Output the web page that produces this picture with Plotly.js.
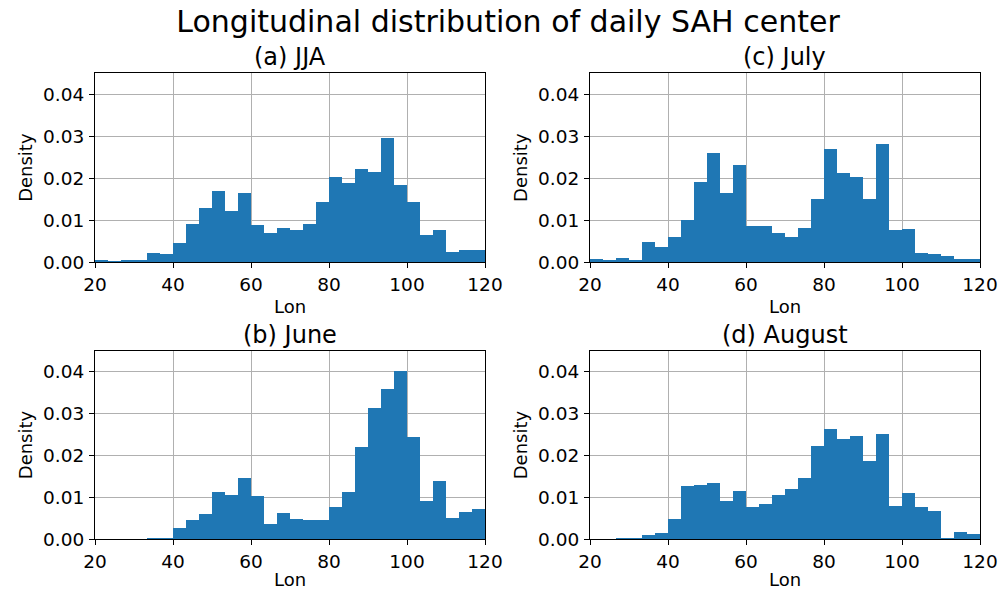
<!DOCTYPE html>
<html>
<head>
<meta charset="utf-8">
<script src="https://cdn.plot.ly/plotly-3.0.1.min.js"></script>
<style>
  html, body { margin: 0; padding: 0; background: #fff; }
  #chart { width: 1000px; height: 590px; }
</style>
</head>
<body>
<div id="chart"></div>
<script>
// Histogram of daily SAH center longitude: 30 equal bins between 20E and 120E
const lonMin = 20;
const lonMax = 120;
const nBins = 30;

// Density per bin, west to east
const densityJJA = [0.0002, 0.0001, 0.0004, 0.0002, 0.0021, 0.0018,
  0.0045, 0.0091, 0.0127, 0.0168, 0.0122, 0.0163,
  0.0088, 0.0069, 0.0080, 0.0076, 0.0091, 0.0142,
  0.0202, 0.0188, 0.0221, 0.0214, 0.0294, 0.0182,
  0.0143, 0.0064, 0.0075, 0.0023, 0.0029, 0.0029];

const densityJune = [0, 0, 0, 0, 0.0001, 0.0001,
  0.0027, 0.0045, 0.0061, 0.0112, 0.0105, 0.0146,
  0.0102, 0.0035, 0.0062, 0.0049, 0.0046, 0.0046,
  0.0076, 0.0113, 0.0220, 0.0313, 0.0358, 0.0402,
  0.0244, 0.0090, 0.0140, 0.0051, 0.0065, 0.0073];

const densityJuly = [0.0006, 0.0003, 0.0009, 0.0004, 0.0048, 0.0035,
  0.0059, 0.0099, 0.0189, 0.0259, 0.0165, 0.0231,
  0.0085, 0.0085, 0.0068, 0.0059, 0.0080, 0.0150,
  0.0268, 0.0211, 0.0201, 0.0150, 0.0280, 0.0075,
  0.0078, 0.0022, 0.0019, 0.0014, 0.0006, 0.0006];

const densityAugust = [0, 0, 0.0001, 0.0001, 0.0010, 0.0014,
  0.0047, 0.0127, 0.0129, 0.0135, 0.0091, 0.0116,
  0.0076, 0.0084, 0.0105, 0.0119, 0.0146, 0.0223,
  0.0264, 0.0240, 0.0246, 0.0187, 0.0252, 0.0080,
  0.0109, 0.0076, 0.0066, 0.0003, 0.0017, 0.0012];

const panelTitles = ['(a) JJA', '(b) June', '(c) July', '(d) August'];
const xTicks = [20, 40, 60, 80, 100, 120];
const yTicks = [0, 0.01, 0.02, 0.03, 0.04];

const binWidth = (lonMax - lonMin) / nBins;
const binCenters = Array.from({length: nBins}, (_, i) => lonMin + (i + 0.5) * binWidth);

const font = 'DejaVu Sans, Liberation Sans, sans-serif';
const barColor = '#1f77b4';
const tickSize = 18.5;
const labelSize = 18;

// panel order: JJA top-left, June bottom-left, July top-right, August bottom-right
const panels = [
  {data: densityJJA,    xa: 'x',  ya: 'y',  xd: [0.095, 0.485], yd: [0.5559, 0.8758]},
  {data: densityJune,   xa: 'x2', ya: 'y2', xd: [0.095, 0.485], yd: [0.0864, 0.4051]},
  {data: densityJuly,   xa: 'x3', ya: 'y3', xd: [0.590, 0.980], yd: [0.5559, 0.8758]},
  {data: densityAugust, xa: 'x4', ya: 'y4', xd: [0.590, 0.980], yd: [0.0864, 0.4051]}
];

const traces = panels.map(p => ({
  type: 'bar',
  x: binCenters,
  y: p.data,
  width: binWidth,
  xaxis: p.xa,
  yaxis: p.ya,
  marker: {color: barColor, line: {width: 0}},
  hoverinfo: 'x+y',
  showlegend: false
}));

const layout = {
  width: 1000,
  height: 590,
  margin: {l: 0, r: 0, t: 0, b: 0},
  paper_bgcolor: '#fff',
  plot_bgcolor: '#fff',
  bargap: 0,
  font: {family: font, color: '#000', size: 16},
  title: {
    text: 'Longitudinal distribution of daily SAH center',
    font: {family: font, size: 30, color: '#000'},
    x: 0.508, xanchor: 'center',
    y: 0.963, yanchor: 'middle'
  },
  annotations: []
};

panels.forEach((p, i) => {
  const sx = i === 0 ? '' : String(i + 1);
  layout['xaxis' + sx] = {
    domain: p.xd,
    anchor: p.ya,
    range: [lonMin, lonMax],
    tickvals: xTicks,
    ticktext: xTicks.map(String),
    ticks: 'outside', ticklen: 5, tickwidth: 1, tickcolor: '#000',
    ticklabelstandoff: 1,
    tickfont: {family: font, size: tickSize, color: '#000'},
    showgrid: true, gridcolor: '#b0b0b0', gridwidth: 1,
    showline: true, linecolor: '#000', linewidth: 1, mirror: true,
    zeroline: false,
    title: {text: 'Lon', font: {family: font, size: labelSize, color: '#000'}, standoff: 6},
    fixedrange: true
  };
  layout['yaxis' + sx] = {
    domain: p.yd,
    anchor: p.xa,
    range: [0, 0.045],
    tickvals: yTicks,
    tickformat: '.2f',
    ticks: 'outside', ticklen: 5, tickwidth: 1, tickcolor: '#000',
    ticklabelstandoff: 1,
    tickfont: {family: font, size: tickSize, color: '#000'},
    showgrid: true, gridcolor: '#b0b0b0', gridwidth: 1,
    showline: true, linecolor: '#000', linewidth: 1, mirror: true,
    zeroline: false,
    title: {text: 'Density', font: {family: font, size: labelSize, color: '#000'}, standoff: 5},
    fixedrange: true
  };
  layout.annotations.push({
    text: panelTitles[i],
    xref: 'paper', yref: 'paper',
    x: (p.xd[0] + p.xd[1]) / 2,
    y: p.yd[1],
    xanchor: 'center', yanchor: 'middle',
    yshift: 16,
    showarrow: false,
    font: {family: font, size: 24, color: '#000'}
  });
});

Plotly.newPlot('chart', traces, layout, {displayModeBar: false, staticPlot: false});
</script>
</body>
</html>
